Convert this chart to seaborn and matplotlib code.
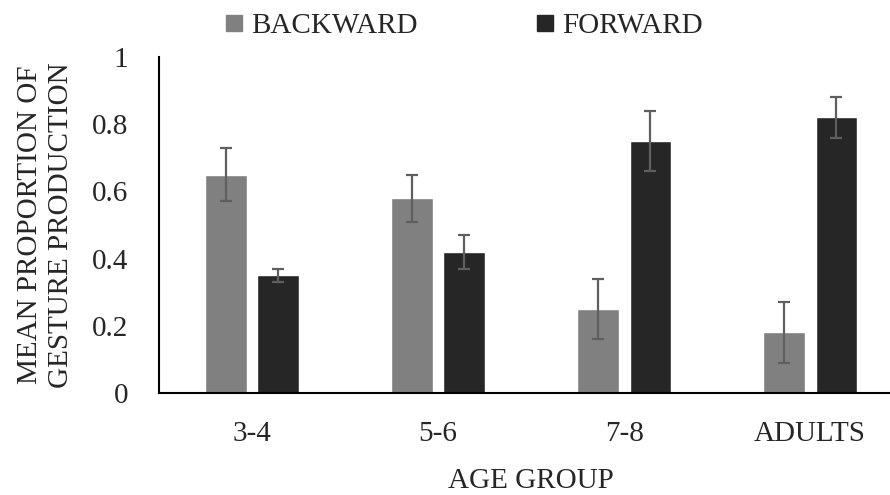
import matplotlib
matplotlib.use('Agg')
import pandas as pd
import matplotlib.pyplot as plt
from matplotlib.lines import Line2D
import seaborn as sns

grupos = ['3-4', '5-6', '7-8', 'ADULTS']
direcciones = ['BACKWARD', 'FORWARD']
media_backward = [0.65, 0.58, 0.25, 0.18]
media_forward = [0.35, 0.42, 0.75, 0.82]
error_backward = [0.08, 0.07, 0.09, 0.09]
error_forward = [0.02, 0.05, 0.09, 0.06]
colores = ['#808080', '#262626']

df = pd.DataFrame({
    'grupo': grupos * 2,
    'direccion': ['BACKWARD'] * 4 + ['FORWARD'] * 4,
    'media': media_backward + media_forward,
})

sns.set_style('white')
plt.rcParams['font.family'] = ['Liberation Serif', 'DejaVu Serif']
tam = 21

fig = plt.figure(figsize=(8.9, 4.95), dpi=100)
ax = fig.add_axes([0.1787, 0.2061, 0.836, 0.679])

sns.barplot(data=df, x='grupo', y='media', hue='direccion', order=grupos,
            hue_order=direcciones, palette=colores, width=0.565, gap=0.207,
            errorbar=None, saturation=1, ax=ax, legend=False)

# barras de error desde las barras dibujadas
for contenedor, errores in zip(ax.containers, [error_backward, error_forward]):
    xs = [b.get_x() + b.get_width() / 2 for b in contenedor]
    ys = [b.get_height() for b in contenedor]
    ax.errorbar(xs, ys, yerr=errores, fmt='none', ecolor='#5f5f5f',
                elinewidth=1.6, capsize=4.5, capthick=1.6)

ax.set_xlim(-0.5, 3.5)
ax.set_ylim(0, 1)
ax.set_yticks([0, 0.2, 0.4, 0.6, 0.8, 1])
ax.set_yticklabels(['0', '0.2', '0.4', '0.6', '0.8', '1'])
ax.tick_params(axis='y', length=0, pad=22, labelsize=tam)
ax.tick_params(axis='x', length=0, pad=20, labelsize=tam)
ax.set_xlabel('AGE GROUP', fontsize=tam, labelpad=15)
ax.set_ylabel('MEAN PROPORTION OF\nGESTURE PRODUCTION', fontsize=tam,
              linespacing=1.25)
ax.yaxis.set_label_coords(-0.114, 0.5)

for lado in ['top', 'right']:
    ax.spines[lado].set_visible(False)
for lado in ['left', 'bottom']:
    ax.spines[lado].set_color('black')
    ax.spines[lado].set_linewidth(1.5)

manijas = [Line2D([], [], marker='s', linestyle='none', markersize=11,
                  color=c) for c in colores]
fig.legend(manijas, direcciones, loc='center', ncol=2, frameon=False,
           bbox_to_anchor=(462 / 890, 1 - 26 / 495), fontsize=tam,
           handletextpad=0.15, columnspacing=3.9, handlelength=0.9)

fig.savefig('out.png', dpi=100)
